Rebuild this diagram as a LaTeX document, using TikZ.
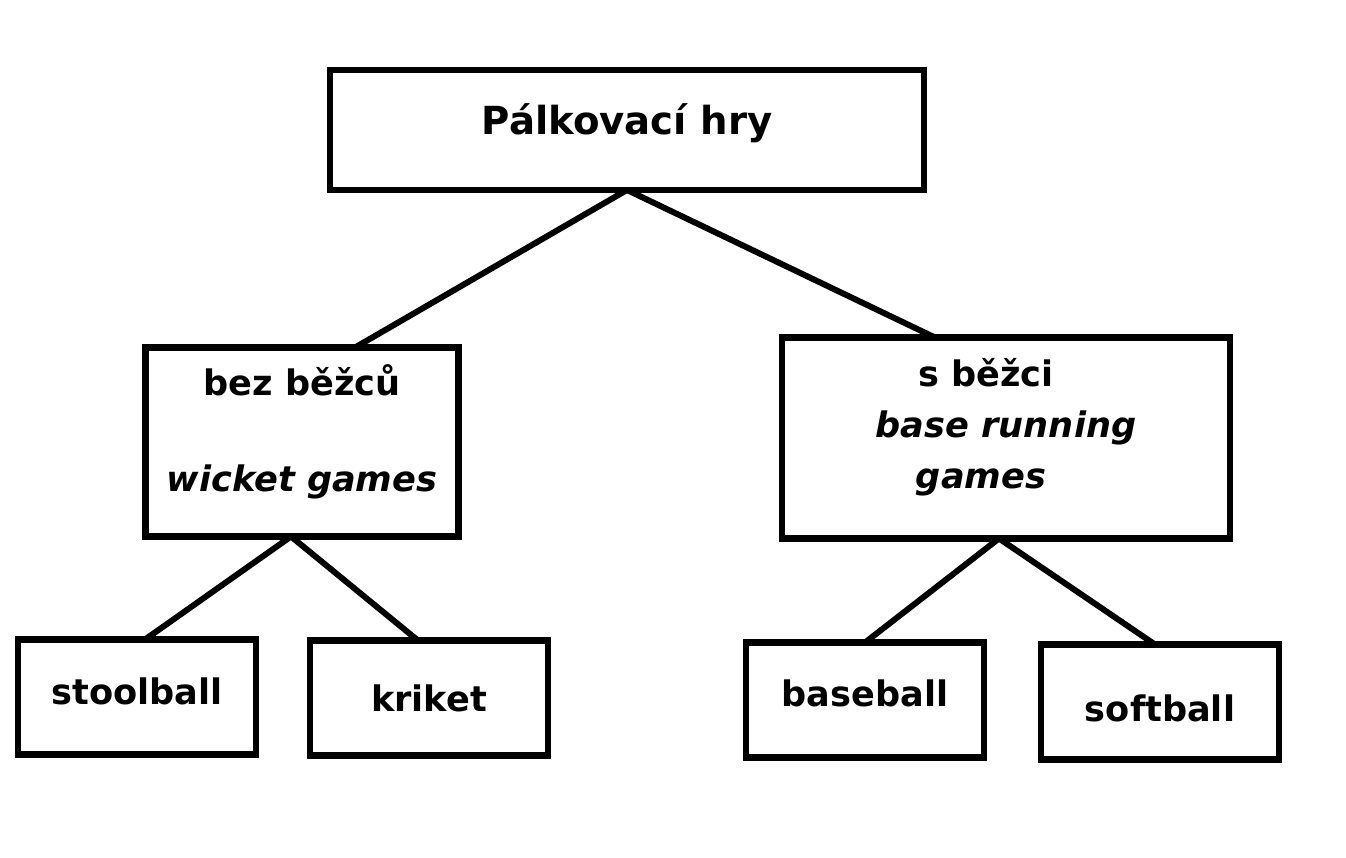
\documentclass[tikz,border=0pt]{standalone}
\usepackage{fontspec}
\setmainfont{DejaVu Sans}
\newcommand\vpad[2]{\rule[-#2]{0pt}{\dimexpr#1+#2\relax}}

\begin{document}
\begin{tikzpicture}[x=0.02cm,y=-0.02cm,
    box/.style={draw,line width=3.6pt,inner sep=0pt,outer sep=0pt,align=center,
      font=\bfseries\fontsize{20}{29}\selectfont},
    leaf/.style={box,minimum width=4.76cm,minimum height=2.3cm},
    edge/.style={line width=3.4pt}]
                \useasboundingbox (0,0) rectangle (1346,858);
                \node[box,minimum width=11.88cm,minimum height=2.4cm,font=\bfseries\fontsize{22}{29}\selectfont] (hry) at (627,130) {Pálkovací hry\vpad{0pt}{12pt}};
                \node[box,minimum width=6.26cm,minimum height=3.78cm] (bez) at (302,442) {bez běžců\\[26pt]\textit{wicket games}\vpad{0pt}{16pt}};
                \node[box,minimum width=8.96cm,minimum height=4.02cm] (sbezci) at (1006,438) {s běžci\hspace*{0.8cm}\\\textit{base running}\\\textit{games}\hspace*{1cm}\vpad{0pt}{17pt}};
                \node[leaf] (stool) at (137,697) {stoolball\vpad{0pt}{7pt}};
                \node[leaf] (kriket) at (429,698) {kriket};
                \node[leaf] (base) at (865,700) {baseball\vpad{0pt}{8pt}};
                \node[leaf] (soft) at (1160,702) {softball\vpad{22pt}{0pt}};

                \draw[edge] (hry.south) -- ([xshift=1.06cm]bez.north);
                \draw[edge] (hry.south) -- ([xshift=-1.42cm]sbezci.north);
                \draw[edge] ([xshift=-0.22cm]bez.south) -- ([xshift=0.16cm]stool.north);
                \draw[edge] ([xshift=-0.22cm]bez.south) -- ([xshift=-0.22cm]kriket.north);
                \draw[edge] ([xshift=-0.14cm]sbezci.south) -- (base.north);
                \draw[edge] ([xshift=-0.14cm]sbezci.south) -- ([xshift=-0.1cm]soft.north);
            \end{tikzpicture}
\end{document}
